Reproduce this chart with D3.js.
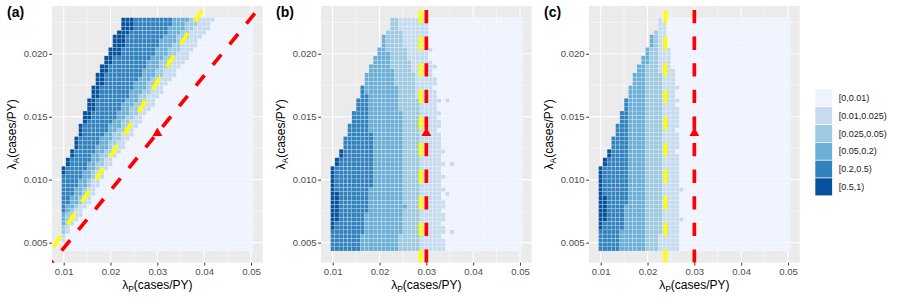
<!DOCTYPE html>
<html>
<head>
<meta charset="utf-8">
<script src="https://cdn.jsdelivr.net/npm/d3@7"></script>
<style>
  body { margin: 0; background: #fff; }
  text { font-family: "Liberation Sans", Arial, sans-serif; }
</style>
</head>
<body>
<svg id="chart" width="900" height="300"></svg>
<script>
// ---- data ----
const lamPTicks = [0.01, 0.02, 0.03, 0.04, 0.05]
const lamATicks = [0.005, 0.010, 0.015, 0.020]
const lamPMin = 0.01, lamPMax = 0.05, nCols = 45
const lamAMin = 0.0045, lamAMax = 0.0227, nRows = 55

const legendLabels = ['[0,0.01)', '[0.01,0.025)', '[0.025,0.05)', '[0.05,0.2)', '[0.2,0.5)', '[0.5,1)']
const blues = ['#eff3ff', '#c6dbef', '#9ecae1', '#6baed6', '#3182bd', '#08519c']

// first filled column of each row (row 0 = lowest lambda_A), same in all panels
const rowStart = [0,0,0,0,0,0,0,0,0,0, 0,0,0,0,0,0,0,0,0,0,
  1,1,2,2,3,3,3,4,4,4, 5,5,5,6,6,6,7,7,7,8, 8,8,9,9,10,10,11,11,12,12, 12,13,14,14,14]

// per row: column where class [0.5,1), [0.2,0.5), [0.05,0.2), [0.025,0.05), [0.01,0.025) ends
const breaksA = [
  [0,0,0,0,0],[0,0,0,0,0],[0,0,0,0,1],[0,0,0,0,1],[0,0,0,1,2],[0,0,0,1,2],[0,0,1,2,3],[0,0,1,2,4],
  [0,0,1,3,5],[0,1,2,3,5],[0,1,3,4,6],[0,2,4,5,7],[0,2,4,5,7],[0,3,5,6,8],[0,3,5,6,8],[0,4,6,7,9],
  [0,4,6,7,9],[0,5,7,8,10],[1,5,7,8,10],[1,6,8,9,11],[2,6,8,10,12],[2,7,9,10,12],[3,7,9,11,13],
  [3,8,10,12,14],[4,8,11,12,15],[4,9,11,13,15],[4,9,12,14,16],[5,10,12,14,17],[5,11,13,15,17],
  [5,11,14,16,18],[6,12,14,16,19],[7,13,15,17,19],[7,13,16,18,20],[8,14,16,18,21],[8,14,17,19,22],
  [8,15,18,20,22],[9,16,18,20,23],[9,16,19,21,24],[9,17,20,22,24],[10,17,20,22,25],[10,18,21,23,26],
  [10,19,22,24,27],[11,19,22,24,27],[11,20,23,25,28],[12,20,23,26,29],[12,21,24,26,30],[14,22,25,27,30],
  [14,22,25,28,31],[15,23,26,28,32],[15,23,27,29,32],[15,24,27,30,33],[16,25,28,30,34],[17,25,29,31,35],
  [17,26,29,32,35],[17,26,30,32,36]
]
const breaksB = [
  [0,7,16,21,27],[0,7,16,21,27],[0,7,16,21,27],[0,7,16,21,26],[0,8,17,21,27],[1,8,17,21,27],
  [1,8,17,21,26],[2,8,17,21,27],[2,8,17,21,27],[2,9,17,21,26],[2,9,18,21,27],[2,9,17,21,27],
  [2,9,17,21,26],[2,9,17,21,26],[1,9,17,21,27],[1,10,17,21,26],[1,10,17,21,26],[1,10,17,21,27],
  [1,10,17,21,26],[1,10,17,21,26],[2,10,17,21,27],[2,10,17,21,26],[3,10,17,21,26],[3,10,17,21,27],
  [3,10,17,21,26],[3,10,17,21,26],[3,10,17,21,26],[4,10,17,21,26],[4,9,17,21,25],[4,9,17,21,26],
  [5,9,17,21,26],[5,9,17,21,25],[5,9,17,21,26],[6,9,16,21,25],[6,9,16,21,25],[6,9,16,21,26],
  [7,9,16,20,25],[7,8,16,20,25],[7,8,16,20,24],[8,8,15,20,25],[8,8,15,20,25],[8,8,15,20,24],
  [9,9,15,19,24],[9,9,14,19,24],[10,10,14,19,24],[10,10,14,18,23],[11,11,14,18,23],[11,11,13,18,24],
  [12,12,13,17,23],[12,12,13,17,23],[12,12,13,17,23],[13,13,13,17,23],[14,14,14,16,23],[14,14,14,16,23],
  [14,14,14,16,23]
]
const breaksC = [
  [0,5,11,14,19],[0,5,11,14,19],[0,5,11,14,19],[0,5,11,14,19],[0,5,11,15,19],[1,6,11,15,19],
  [1,6,11,15,19],[2,6,11,15,20],[2,6,11,15,19],[2,6,11,15,19],[2,6,11,15,19],[2,7,11,15,19],
  [2,7,11,15,19],[1,7,11,15,19],[1,7,11,15,20],[1,7,11,15,19],[1,7,11,15,19],[1,7,11,15,19],
  [1,7,11,15,19],[1,7,11,15,19],[2,7,11,15,19],[2,7,11,15,19],[3,7,11,15,19],[3,7,11,15,18],
  [3,7,11,15,19],[3,7,11,15,19],[3,7,11,15,19],[4,7,11,15,19],[4,7,11,15,18],[4,7,11,15,19],
  [5,7,11,15,19],[5,7,11,15,19],[5,7,11,15,19],[6,7,11,15,19],[6,7,11,15,18],[6,7,11,15,19],
  [7,7,11,15,18],[7,7,11,15,18],[7,7,11,15,19],[8,8,11,15,18],[8,8,11,15,18],[8,8,11,15,18],
  [9,9,11,14,18],[9,9,11,14,17],[10,10,12,14,17],[10,10,12,14,17],[11,11,12,14,17],[11,11,12,14,17],
  [12,12,13,14,16],[12,12,13,14,16],[12,12,13,14,16],[13,13,13,14,16],[14,14,14,14,16],[14,14,14,14,16],
  [14,14,14,14,15]
]
// isolated light cells in panel b: [row, col, class]
const extraB = [[4,28,1],[13,27,1],[20,28,1],[35,27,1],[43,24,1]]

const panelTags = ['(a)', '(b)', '(c)']
const yellowSlopeA = 0.593, redSlopeA = 0.4567
const yellowP = [null, 0.0288, 0.0238]
const redP = 0.03
const refPoint = [0.03, 0.0137]

// ---- layout ----
const svg = d3.select('#chart')
const panelW = 210.7, panelTop = 6, panelBottom = 262.7
const panelLefts = [52, 321, 589]
const panelBreaks = [breaksA, breaksB, breaksC]

const cw = (lamPMax - lamPMin) / (nCols - 1)
const ch = (lamAMax - lamAMin) / (nRows - 1)
const xLo = lamPMin - cw / 2, xHi = lamPMax + cw / 2
const yLo = lamAMin - ch / 2, yHi = lamAMax + ch / 2
const xPad = 0.05 * (xHi - xLo), yPad = 0.05 * (yHi - yLo)

const y = d3.scaleLinear().domain([yLo - yPad, yHi + yPad]).range([panelBottom, panelTop])

function cellClass(b, c) {
  for (let k = 0; k < 5; k++) if (c < b[k]) return 5 - k
  return 0
}

panelLefts.forEach((left, i) => {
  const x = d3.scaleLinear().domain([xLo - xPad, xHi + xPad]).range([left, left + panelW])
  const g = svg.append('g')

  g.append('clipPath').attr('id', 'clip' + i)
    .append('rect').attr('x', left).attr('y', panelTop)
    .attr('width', panelW).attr('height', panelBottom - panelTop)

  g.append('rect').attr('x', left).attr('y', panelTop)
    .attr('width', panelW).attr('height', panelBottom - panelTop)
    .attr('fill', '#ebebeb')

  // grid
  const xMinor = d3.range(0.005, 0.056, 0.01).filter(v => v > x.domain()[0] && v < x.domain()[1])
  const yMinor = [0.0025, 0.0075, 0.0125, 0.0175, 0.0225].filter(v => v > y.domain()[0] && v < y.domain()[1])
  g.selectAll('.xminor').data(xMinor).join('line')
    .attr('x1', d => x(d)).attr('x2', d => x(d)).attr('y1', panelTop).attr('y2', panelBottom)
    .attr('stroke', '#fff').attr('stroke-width', 0.5)
  g.selectAll('.yminor').data(yMinor).join('line')
    .attr('y1', d => y(d)).attr('y2', d => y(d)).attr('x1', left).attr('x2', left + panelW)
    .attr('stroke', '#fff').attr('stroke-width', 0.5)
  g.selectAll('.xmajor').data(lamPTicks).join('line')
    .attr('x1', d => x(d)).attr('x2', d => x(d)).attr('y1', panelTop).attr('y2', panelBottom)
    .attr('stroke', '#fff').attr('stroke-width', 1.1)
  g.selectAll('.ymajor').data(lamATicks).join('line')
    .attr('y1', d => y(d)).attr('y2', d => y(d)).attr('x1', left).attr('x2', left + panelW)
    .attr('stroke', '#fff').attr('stroke-width', 1.1)

  // cells
  const cells = []
  panelBreaks[i].forEach((b, r) => {
    for (let c = rowStart[r]; c < nCols; c++) cells.push({ r, c, k: cellClass(b, c) })
  })
  if (i === 1) extraB.forEach(([r, c, k]) => {
    const cell = cells.find(d => d.r === r && d.c === c)
    if (cell) cell.k = k
  })
  const wPx = x(lamPMin + cw) - x(lamPMin)
  const hPx = y(lamAMin) - y(lamAMin + ch)
  g.append('g').selectAll('rect').data(cells).join('rect')
    .attr('x', d => x(lamPMin + d.c * cw) - wPx / 2)
    .attr('y', d => y(lamAMin + d.r * ch) - hPx / 2)
    .attr('width', wPx).attr('height', hPx)
    .attr('fill', d => blues[d.k])
    .attr('stroke', 'rgba(255,255,255,0.75)').attr('stroke-width', 0.3)

  // reference lines
  const lg = g.append('g').attr('clip-path', `url(#clip${i})`)
  const [x0, x1] = x.domain()
  if (i === 0) {
    lg.append('line')
      .attr('x1', x(x0)).attr('y1', y(yellowSlopeA * x0))
      .attr('x2', x(x1)).attr('y2', y(yellowSlopeA * x1))
      .attr('stroke', '#ffff00').attr('stroke-width', 3.7)
      .attr('stroke-dasharray', '13.3,13.3').attr('stroke-dashoffset', 23.5)
    lg.append('line')
      .attr('x1', x(x0)).attr('y1', y(redSlopeA * x0))
      .attr('x2', x(x1)).attr('y2', y(redSlopeA * x1))
      .attr('stroke', '#ff0000').attr('stroke-width', 3.7)
      .attr('stroke-dasharray', '13.3,13.3').attr('stroke-dashoffset', 11.3)
  } else {
    lg.append('line')
      .attr('x1', x(yellowP[i])).attr('x2', x(yellowP[i]))
      .attr('y1', panelBottom).attr('y2', panelTop)
      .attr('stroke', '#ffff00').attr('stroke-width', 3.7)
      .attr('stroke-dasharray', '13.3,13.3')
    lg.append('line')
      .attr('x1', x(redP)).attr('x2', x(redP))
      .attr('y1', panelBottom).attr('y2', panelTop)
      .attr('stroke', '#ff0000').attr('stroke-width', 3.7)
      .attr('stroke-dasharray', '13.3,13.3')
  }
  lg.append('path')
    .attr('d', d3.symbol(d3.symbolTriangle).size(42)())
    .attr('transform', `translate(${x(refPoint[0])},${y(refPoint[1])})`)
    .attr('fill', '#ff0000')

  // axes
  const xAxis = g.append('g').attr('transform', `translate(0,${panelBottom})`)
    .call(d3.axisBottom(x).tickValues(lamPTicks).tickFormat(d3.format('.2f')).tickSize(2.8).tickPadding(2.3))
  const yAxis = g.append('g').attr('transform', `translate(${left},0)`)
    .call(d3.axisLeft(y).tickValues(lamATicks).tickFormat(d3.format('.3f')).tickSize(2.8).tickPadding(1.5))
  ;[xAxis, yAxis].forEach(a => {
    a.select('.domain').remove()
    a.selectAll('.tick line').attr('stroke', '#333').attr('stroke-width', 1)
    a.selectAll('.tick text').attr('fill', '#4d4d4d').attr('font-size', 9.6)
      .attr('font-family', '"Liberation Sans", Arial, sans-serif')
  })

  // axis titles
  const xt = g.append('text').attr('x', left + panelW / 2).attr('y', 289)
    .attr('text-anchor', 'middle').attr('font-size', 12).attr('fill', '#000')
  xt.append('tspan').text('λ')
  xt.append('tspan').text('P').attr('font-size', 8.5).attr('dy', 2.5)
  xt.append('tspan').text('(cases/PY)').attr('dy', -2.5)

  const yt = g.append('text')
    .attr('transform', `translate(${left - 36},${(panelTop + panelBottom) / 2}) rotate(-90)`)
    .attr('text-anchor', 'middle').attr('font-size', 12).attr('fill', '#000')
  yt.append('tspan').text('λ')
  yt.append('tspan').text('A').attr('font-size', 8.5).attr('dy', 2.5)
  yt.append('tspan').text('(cases/PY)').attr('dy', -2.5)

  g.append('text').attr('x', left - 45).attr('y', 17)
    .attr('font-size', 14).attr('font-weight', 'bold').attr('fill', '#000')
    .text(panelTags[i])
})

// legend
const lgd = svg.append('g')
const keyW = 17.3, keyH = 17.8, keyX = 815, keyY = 89
lgd.selectAll('rect').data(legendLabels).join('rect')
  .attr('x', keyX).attr('y', (d, j) => keyY + j * keyH)
  .attr('width', keyW).attr('height', keyH)
  .attr('fill', (d, j) => blues[j])
  .attr('stroke', '#fff').attr('stroke-width', 0.6)
lgd.selectAll('text').data(legendLabels).join('text')
  .attr('x', keyX + keyW + 6.5).attr('y', (d, j) => keyY + j * keyH + keyH / 2)
  .attr('dy', '0.35em').attr('font-size', 9).attr('fill', '#1a1a1a')
  .text(d => d)
</script>
</body>
</html>
